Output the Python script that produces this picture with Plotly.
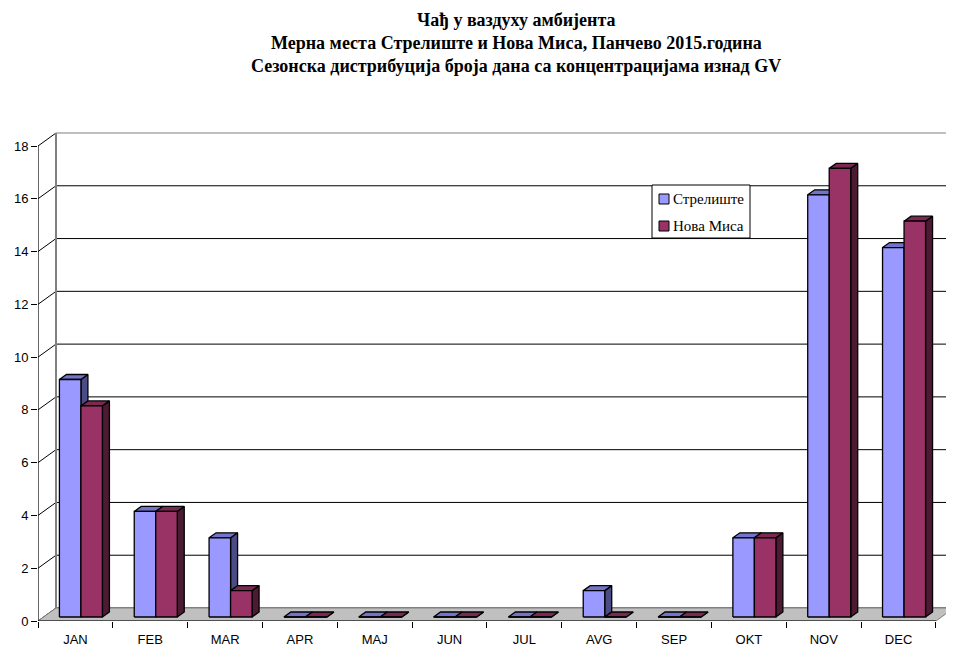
import plotly.graph_objects as go

months = ["JAN", "FEB", "MAR", "APR", "MAJ", "JUN", "JUL", "AVG", "SEP", "OKT", "NOV", "DEC"]
strel = [9, 4, 3, 0, 0, 0, 0, 1, 0, 3, 16, 14]
nova = [8, 4, 1, 0, 0, 0, 0, 0, 0, 3, 17, 15]
series_names = ["Стрелиште", "Нова Миса"]
y_ticks = list(range(0, 20, 2))
title_lines = [
    "Чађ у ваздуху амбијента",
    "Мерна места Стрелиште и Нова Миса, Панчево 2015.година",
    "Сезонска дистрибуција броја дана са концентрацијама изнад GV",
]

# page geometry (the page body adds an 8px offset around the figure)
PAGE_W, PAGE_H = 954, 646
OFF = 8
W, H = PAGE_W - OFF, PAGE_H - OFF
PL, PR, PT, PB = 38, 954, 131, 621   # plot area in page pixels
L, R, T, B = PL - OFF, PAGE_W - PR, PT - OFF, PAGE_H - PB
PXX = 74.83   # px per category
PXY = 26.389  # px per value unit
xr = [-0.5, -0.5 + (PR - PL) / PXX]
yr = [0, (PB - PT) / PXY]
back_dx, back_dy = 18 / PXX, 13 / PXY
bar_dx, bar_dy = 5.5 / PXX, 4 / PXY
dep_dx, dep_dy = 7 / PXX, 5 / PXY
bw = 21.5 / PXX

styles = [
    dict(front="#9999FF", top="#7373CC", side="#4B4B85"),
    dict(front="#993366", top="#7A2952", side="#4C1A33"),
]


def px_x(p):
    return (p - PL) / (PR - PL)


def px_y(p):
    return (PB - p) / (PB - PT)


fig = go.Figure()

# floor
n = len(months)
fx = [-0.5, n - 0.5, n - 0.5 + back_dx, -0.5 + back_dx, -0.5]
fy = [0, 0, back_dy, back_dy, 0]
fig.add_trace(go.Scatter(x=fx, y=fy, fill="toself", fillcolor="#C0C0C0", mode="lines",
                         line=dict(color="#808080", width=1), showlegend=False, hoverinfo="skip"))
fig.add_trace(go.Scatter(x=[-0.5, n - 0.5], y=[0, 0], mode="lines",
                         line=dict(color="black", width=1.2), showlegend=False, hoverinfo="skip"))


def add_poly(xs, ys, color):
    fig.add_trace(go.Scatter(x=xs, y=ys, fill="toself", fillcolor=color, mode="lines",
                             line=dict(color="black", width=1.3), showlegend=False,
                             hoverinfo="skip"))


for k, vals in enumerate([strel, nova]):
    sx, sy, tx, ty, frx, fry = [], [], [], [], [], []
    for i, v in enumerate(vals):
        x0 = i + bar_dx - bw + k * bw
        x1 = x0 + bw
        yb = bar_dy
        yt = bar_dy + v
        sx += [x1, x1 + dep_dx, x1 + dep_dx, x1, x1, None]
        sy += [yb, yb + dep_dy, yt + dep_dy, yt, yb, None]
        tx += [x0, x1, x1 + dep_dx, x0 + dep_dx, x0, None]
        ty += [yt, yt, yt + dep_dy, yt + dep_dy, yt, None]
        frx += [x0, x1, x1, x0, x0, None]
        fry += [yb, yb, yt, yt, yb, None]
    st = styles[k]
    add_poly(sx, sy, st["side"])
    add_poly(tx, ty, st["top"])
    add_poly(frx, fry, st["front"])

# back wall grid, diagonals, edges
shapes = []
for v in y_ticks:
    top = v == y_ticks[-1]
    shapes.append(dict(type="line", xref="x", yref="y", layer="below",
                       x0=-0.5 + back_dx, x1=xr[1], y0=v + back_dy, y1=v + back_dy,
                       line=dict(color="#808080" if top else "black", width=1.2 if top else 1)))
    shapes.append(dict(type="line", xref="x", yref="y", layer="below",
                       x0=-0.5, x1=-0.5 + back_dx, y0=v, y1=v + back_dy,
                       line=dict(color="black", width=1)))
shapes.append(dict(type="line", xref="x", yref="y", layer="below",
                   x0=-0.5 + back_dx, x1=-0.5 + back_dx, y0=back_dy, y1=y_ticks[-1] + back_dy,
                   line=dict(color="#808080", width=2)))
shapes.append(dict(type="line", xref="x", yref="y", layer="above",
                   x0=-0.5, x1=-0.5, y0=0, y1=y_ticks[-1],
                   line=dict(color="black", width=1.2)))

annotations = []
for txt, ypx in zip(title_lines, [20, 43, 66]):
    annotations.append(dict(text="<b>" + txt + "</b>", xref="paper", yref="paper",
                            x=px_x(516), y=px_y(ypx),
                            xanchor="center", yanchor="middle", showarrow=False,
                            font=dict(family="Liberation Serif", size=18, color="black")))

# legend (drawn manually to match the compact box)
shapes.append(dict(type="rect", xref="paper", yref="paper", layer="above",
                   x0=px_x(652), x1=px_x(750), y0=px_y(185), y1=px_y(238),
                   fillcolor="white", line=dict(color="black", width=1)))
for k, (name, cy) in enumerate(zip(series_names, [199, 226])):
    shapes.append(dict(type="rect", xref="paper", yref="paper", layer="above",
                       x0=px_x(659), x1=px_x(669), y0=px_y(cy - 5), y1=px_y(cy + 5),
                       fillcolor=styles[k]["front"], line=dict(color="black", width=1)))
    annotations.append(dict(text=name, xref="paper", yref="paper", x=px_x(671), y=px_y(cy),
                            xanchor="left", yanchor="middle", showarrow=False,
                            font=dict(family="Liberation Serif", size=15, color="black")))

fig.update_layout(
    width=W, height=H,
    margin=dict(l=L, r=R, t=T, b=B, pad=0),
    paper_bgcolor="white", plot_bgcolor="white",
    shapes=shapes, annotations=annotations,
    showlegend=False,
    xaxis=dict(range=xr, tickmode="array", tickvals=list(range(n)), ticktext=months,
               ticks="", showgrid=False, zeroline=False, showline=False,
               ticklabelstandoff=9, automargin=False,
               tickfont=dict(family="Liberation Sans", size=13, color="black"),
               minor=dict(tickmode="array", tickvals=[i - 0.5 for i in range(n + 1)],
                          ticks="outside", ticklen=6, tickcolor="black", tickwidth=1,
                          showgrid=False),
               fixedrange=True),
    yaxis=dict(range=yr, tickmode="array", tickvals=y_ticks, ticks="outside", ticklen=6,
               tickcolor="black", showgrid=False, zeroline=False, showline=False,
               automargin=False,
               tickfont=dict(family="Liberation Sans", size=13, color="black"),
               fixedrange=True),
)

fig.write_html("out.html")
